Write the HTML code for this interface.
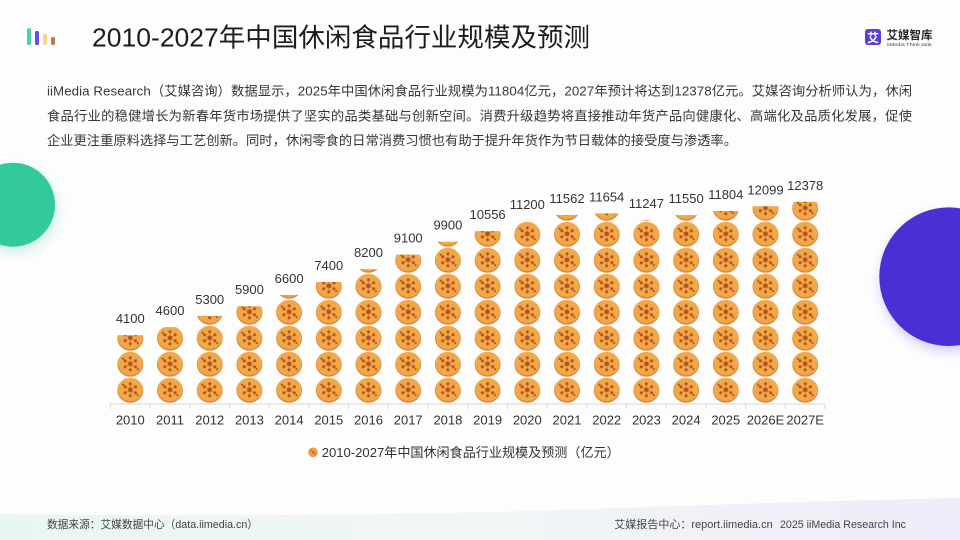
<!DOCTYPE html>
<html>
<head>
<meta charset="utf-8">
<style>
html,body{margin:0;padding:0;background:#fff;}
svg{display:block;}
text{font-family:"Liberation Sans","Noto Sans CJK SC",sans-serif;}
</style>
</head>
<body>
<svg width="960" height="540" viewBox="0 0 960 540" xmlns="http://www.w3.org/2000/svg">
  <defs>
    <linearGradient id="band" x1="0" y1="0" x2="1" y2="0">
      <stop offset="0" stop-color="#e8f6f1"/>
      <stop offset="0.5" stop-color="#f1f6f5"/>
      <stop offset="1" stop-color="#eeecf9"/>
    </linearGradient>
    <filter id="sh" x="-50%" y="-50%" width="200%" height="200%">
      <feGaussianBlur stdDeviation="6"/>
    </filter>
    <pattern id="p" patternUnits="userSpaceOnUse" x="110.45" y="403.3" width="39.7" height="26">
      <ellipse cx="19.85" cy="13" rx="13" ry="12.4" fill="#d9863a"/>
      <ellipse cx="19.85" cy="12.3" rx="12.4" ry="11.6" fill="#f1a847"/>
      <g stroke="#cf7436" stroke-width="0.6">
        <line x1="19.85" y1="12.5" x2="19.85" y2="6.5"/>
        <line x1="19.85" y1="12.5" x2="25.05" y2="9.5"/>
        <line x1="19.85" y1="12.5" x2="25.05" y2="15.5"/>
        <line x1="19.85" y1="12.5" x2="19.85" y2="18.5"/>
        <line x1="19.85" y1="12.5" x2="14.65" y2="15.5"/>
        <line x1="19.85" y1="12.5" x2="14.65" y2="9.5"/>
      </g>
      <g fill="#b54f20">
        <circle cx="19.85" cy="12.5" r="2.3"/>
        <circle cx="19.85" cy="6.5" r="1.5"/>
        <circle cx="25.05" cy="9.5" r="1.5"/>
        <circle cx="25.05" cy="15.5" r="1.5"/>
        <circle cx="19.85" cy="18.5" r="1.5"/>
        <circle cx="14.65" cy="15.5" r="1.5"/>
        <circle cx="14.65" cy="9.5" r="1.5"/>
        <circle cx="12.6" cy="7.4" r="1.1"/>
        <circle cx="27.3" cy="17.8" r="1.1"/>
      </g>
    </pattern>
  </defs>

  <!-- background -->
  <rect width="960" height="540" fill="#fdfdfd"/>
  <path d="M0 514 Q 300 518 560 510 Q 780 502 960 498 L960 540 L0 540 Z" fill="url(#band)"/>

  <!-- decorative circles -->
  <circle cx="15" cy="210" r="42" fill="#34c99d" opacity="0.25" filter="url(#sh)"/>
  <circle cx="13" cy="204.7" r="42" fill="#34c99d"/>
  <circle cx="950" cy="282" r="69" fill="#4a2fd5" opacity="0.25" filter="url(#sh)"/>
  <circle cx="948.6" cy="276.7" r="69.3" fill="#4a2fd5"/>

  <!-- header logo bars -->
  <rect x="27" y="28.3" width="4" height="16.7" rx="1.5" fill="#4dd0a8"/>
  <rect x="35" y="31" width="4" height="14" rx="1.5" fill="#6a4fd8"/>
  <rect x="43" y="33.7" width="4" height="11.3" rx="1.5" fill="#f6d68c"/>
  <rect x="51" y="37" width="4" height="8" rx="1.5" fill="#c8773c"/>

  <!-- title -->
  <text x="92" y="46.7" font-size="26" fill="#1c1c1c" textLength="498" lengthAdjust="spacingAndGlyphs">2010-2027年中国休闲食品行业规模及预测</text>

  <!-- right logo -->
  <rect x="865" y="29" width="16" height="16" rx="3" fill="#5a3ed8"/>
  <text x="873" y="42" font-size="12" font-weight="bold" fill="#fff" text-anchor="middle">艾</text>
  <text x="886.5" y="39" font-size="11.5" font-weight="bold" fill="#2a2a2a" textLength="46" lengthAdjust="spacingAndGlyphs">艾媒智库</text>
  <text x="887" y="46" font-size="4.6" fill="#444" textLength="45" lengthAdjust="spacingAndGlyphs">iiMedia Think tank</text>

  <!-- paragraph -->
  <g font-size="13.3" fill="#383838">
    <text x="47" y="95.7" textLength="865" lengthAdjust="spacing">iiMedia Research（艾媒咨询）数据显示，2025年中国休闲食品行业规模为11804亿元，2027年预计将达到12378亿元。艾媒咨询分析师认为，休闲</text>
    <text x="47" y="120.5" textLength="865" lengthAdjust="spacing">食品行业的稳健增长为新春年货市场提供了坚实的品类基础与创新空间。消费升级趋势将直接推动年货产品向健康化、高端化及品质化发展，促使</text>
    <text x="47" y="145" textLength="690" lengthAdjust="spacing">企业更注重原料选择与工艺创新。同时，休闲零食的日常消费习惯也有助于提升年货作为节日载体的接受度与渗透率。</text>
  </g>

  <!-- axis -->
  <g stroke="#d6d6d6" stroke-width="1">
    <line x1="110.4" y1="404" x2="825.0" y2="404"/>
    <line x1="110.4" y1="404" x2="110.4" y2="409"/>
    <line x1="150.1" y1="404" x2="150.1" y2="409"/>
    <line x1="189.8" y1="404" x2="189.8" y2="409"/>
    <line x1="229.5" y1="404" x2="229.5" y2="409"/>
    <line x1="269.2" y1="404" x2="269.2" y2="409"/>
    <line x1="308.9" y1="404" x2="308.9" y2="409"/>
    <line x1="348.6" y1="404" x2="348.6" y2="409"/>
    <line x1="388.3" y1="404" x2="388.3" y2="409"/>
    <line x1="428.0" y1="404" x2="428.0" y2="409"/>
    <line x1="467.7" y1="404" x2="467.7" y2="409"/>
    <line x1="507.4" y1="404" x2="507.4" y2="409"/>
    <line x1="547.1" y1="404" x2="547.1" y2="409"/>
    <line x1="586.8" y1="404" x2="586.8" y2="409"/>
    <line x1="626.5" y1="404" x2="626.5" y2="409"/>
    <line x1="666.2" y1="404" x2="666.2" y2="409"/>
    <line x1="705.9" y1="404" x2="705.9" y2="409"/>
    <line x1="745.6" y1="404" x2="745.6" y2="409"/>
    <line x1="785.3" y1="404" x2="785.3" y2="409"/>
    <line x1="825.0" y1="404" x2="825.0" y2="409"/>
  </g>

  <!-- bars (cookie pattern) -->
  <g fill="url(#p)">
    <rect x="117.3" y="335.2" width="26" height="68.1"/>
    <rect x="157.0" y="327.15" width="26" height="76.15"/>
    <rect x="196.7" y="315.86" width="26" height="87.44"/>
    <rect x="236.4" y="306.19" width="26" height="97.11"/>
    <rect x="276.1" y="294.91" width="26" height="108.39"/>
    <rect x="315.8" y="282.01" width="26" height="121.29"/>
    <rect x="355.5" y="269.12" width="26" height="134.18"/>
    <rect x="395.2" y="254.61" width="26" height="148.69"/>
    <rect x="434.9" y="241.71" width="26" height="161.59"/>
    <rect x="474.6" y="231.14" width="26" height="172.16"/>
    <rect x="514.3" y="220.76" width="26" height="182.54"/>
    <rect x="554.0" y="214.92" width="26" height="188.38"/>
    <rect x="593.7" y="213.44" width="26" height="189.86"/>
    <rect x="633.4" y="220.0" width="26" height="183.3"/>
    <rect x="673.1" y="215.11" width="26" height="188.19"/>
    <rect x="712.8" y="211.02" width="26" height="192.28"/>
    <rect x="752.5" y="206.26" width="26" height="197.04"/>
    <rect x="792.2" y="201.77" width="26" height="201.53"/>
  </g>

  <!-- value labels -->
  <g font-size="13" fill="#333" text-anchor="middle">
    <text x="130.3" y="323.2">4100</text>
    <text x="170.0" y="315.15">4600</text>
    <text x="209.7" y="303.86">5300</text>
    <text x="249.4" y="294.19">5900</text>
    <text x="289.1" y="282.91">6600</text>
    <text x="328.8" y="270.01">7400</text>
    <text x="368.5" y="257.12">8200</text>
    <text x="408.2" y="242.61">9100</text>
    <text x="447.9" y="229.71">9900</text>
    <text x="487.6" y="219.14">10556</text>
    <text x="527.3" y="208.76">11200</text>
    <text x="567.0" y="202.92">11562</text>
    <text x="606.7" y="201.44">11654</text>
    <text x="646.4" y="208.0">11247</text>
    <text x="686.1" y="203.11">11550</text>
    <text x="725.8" y="199.02">11804</text>
    <text x="765.5" y="194.26">12099</text>
    <text x="805.2" y="189.77">12378</text>
  </g>

  <!-- x labels -->
  <g font-size="13" fill="#333" text-anchor="middle">
    <text x="130.3" y="424.7">2010</text>
    <text x="170.0" y="424.7">2011</text>
    <text x="209.7" y="424.7">2012</text>
    <text x="249.4" y="424.7">2013</text>
    <text x="289.1" y="424.7">2014</text>
    <text x="328.8" y="424.7">2015</text>
    <text x="368.5" y="424.7">2016</text>
    <text x="408.2" y="424.7">2017</text>
    <text x="447.9" y="424.7">2018</text>
    <text x="487.6" y="424.7">2019</text>
    <text x="527.3" y="424.7">2020</text>
    <text x="567.0" y="424.7">2021</text>
    <text x="606.7" y="424.7">2022</text>
    <text x="646.4" y="424.7">2023</text>
    <text x="686.1" y="424.7">2024</text>
    <text x="725.8" y="424.7">2025</text>
    <text x="765.5" y="424.7">2026E</text>
    <text x="805.2" y="424.7">2027E</text>
  </g>

  <!-- legend -->
  <circle cx="313" cy="452.3" r="4.8" fill="#e99d45"/>
  <circle cx="313" cy="452.3" r="1.1" fill="#b54f20"/>
  <circle cx="311" cy="450.5" r="0.7" fill="#b54f20"/>
  <circle cx="315" cy="454" r="0.7" fill="#b54f20"/>
  <text x="321.7" y="457" font-size="13.3" fill="#333" textLength="298" lengthAdjust="spacingAndGlyphs">2010-2027年中国休闲食品行业规模及预测（亿元）</text>

  <!-- footer -->
  <text x="47" y="528" font-size="11" fill="#444" textLength="211" lengthAdjust="spacingAndGlyphs">数据来源：艾媒数据中心（data.iimedia.cn）</text>
  <text x="614.3" y="528" font-size="11" fill="#444" textLength="158.4" lengthAdjust="spacingAndGlyphs">艾媒报告中心：report.iimedia.cn</text>
  <text x="780" y="528" font-size="11" fill="#444" textLength="126" lengthAdjust="spacingAndGlyphs">2025 iiMedia Research Inc</text>
</svg>
</body>
</html>
